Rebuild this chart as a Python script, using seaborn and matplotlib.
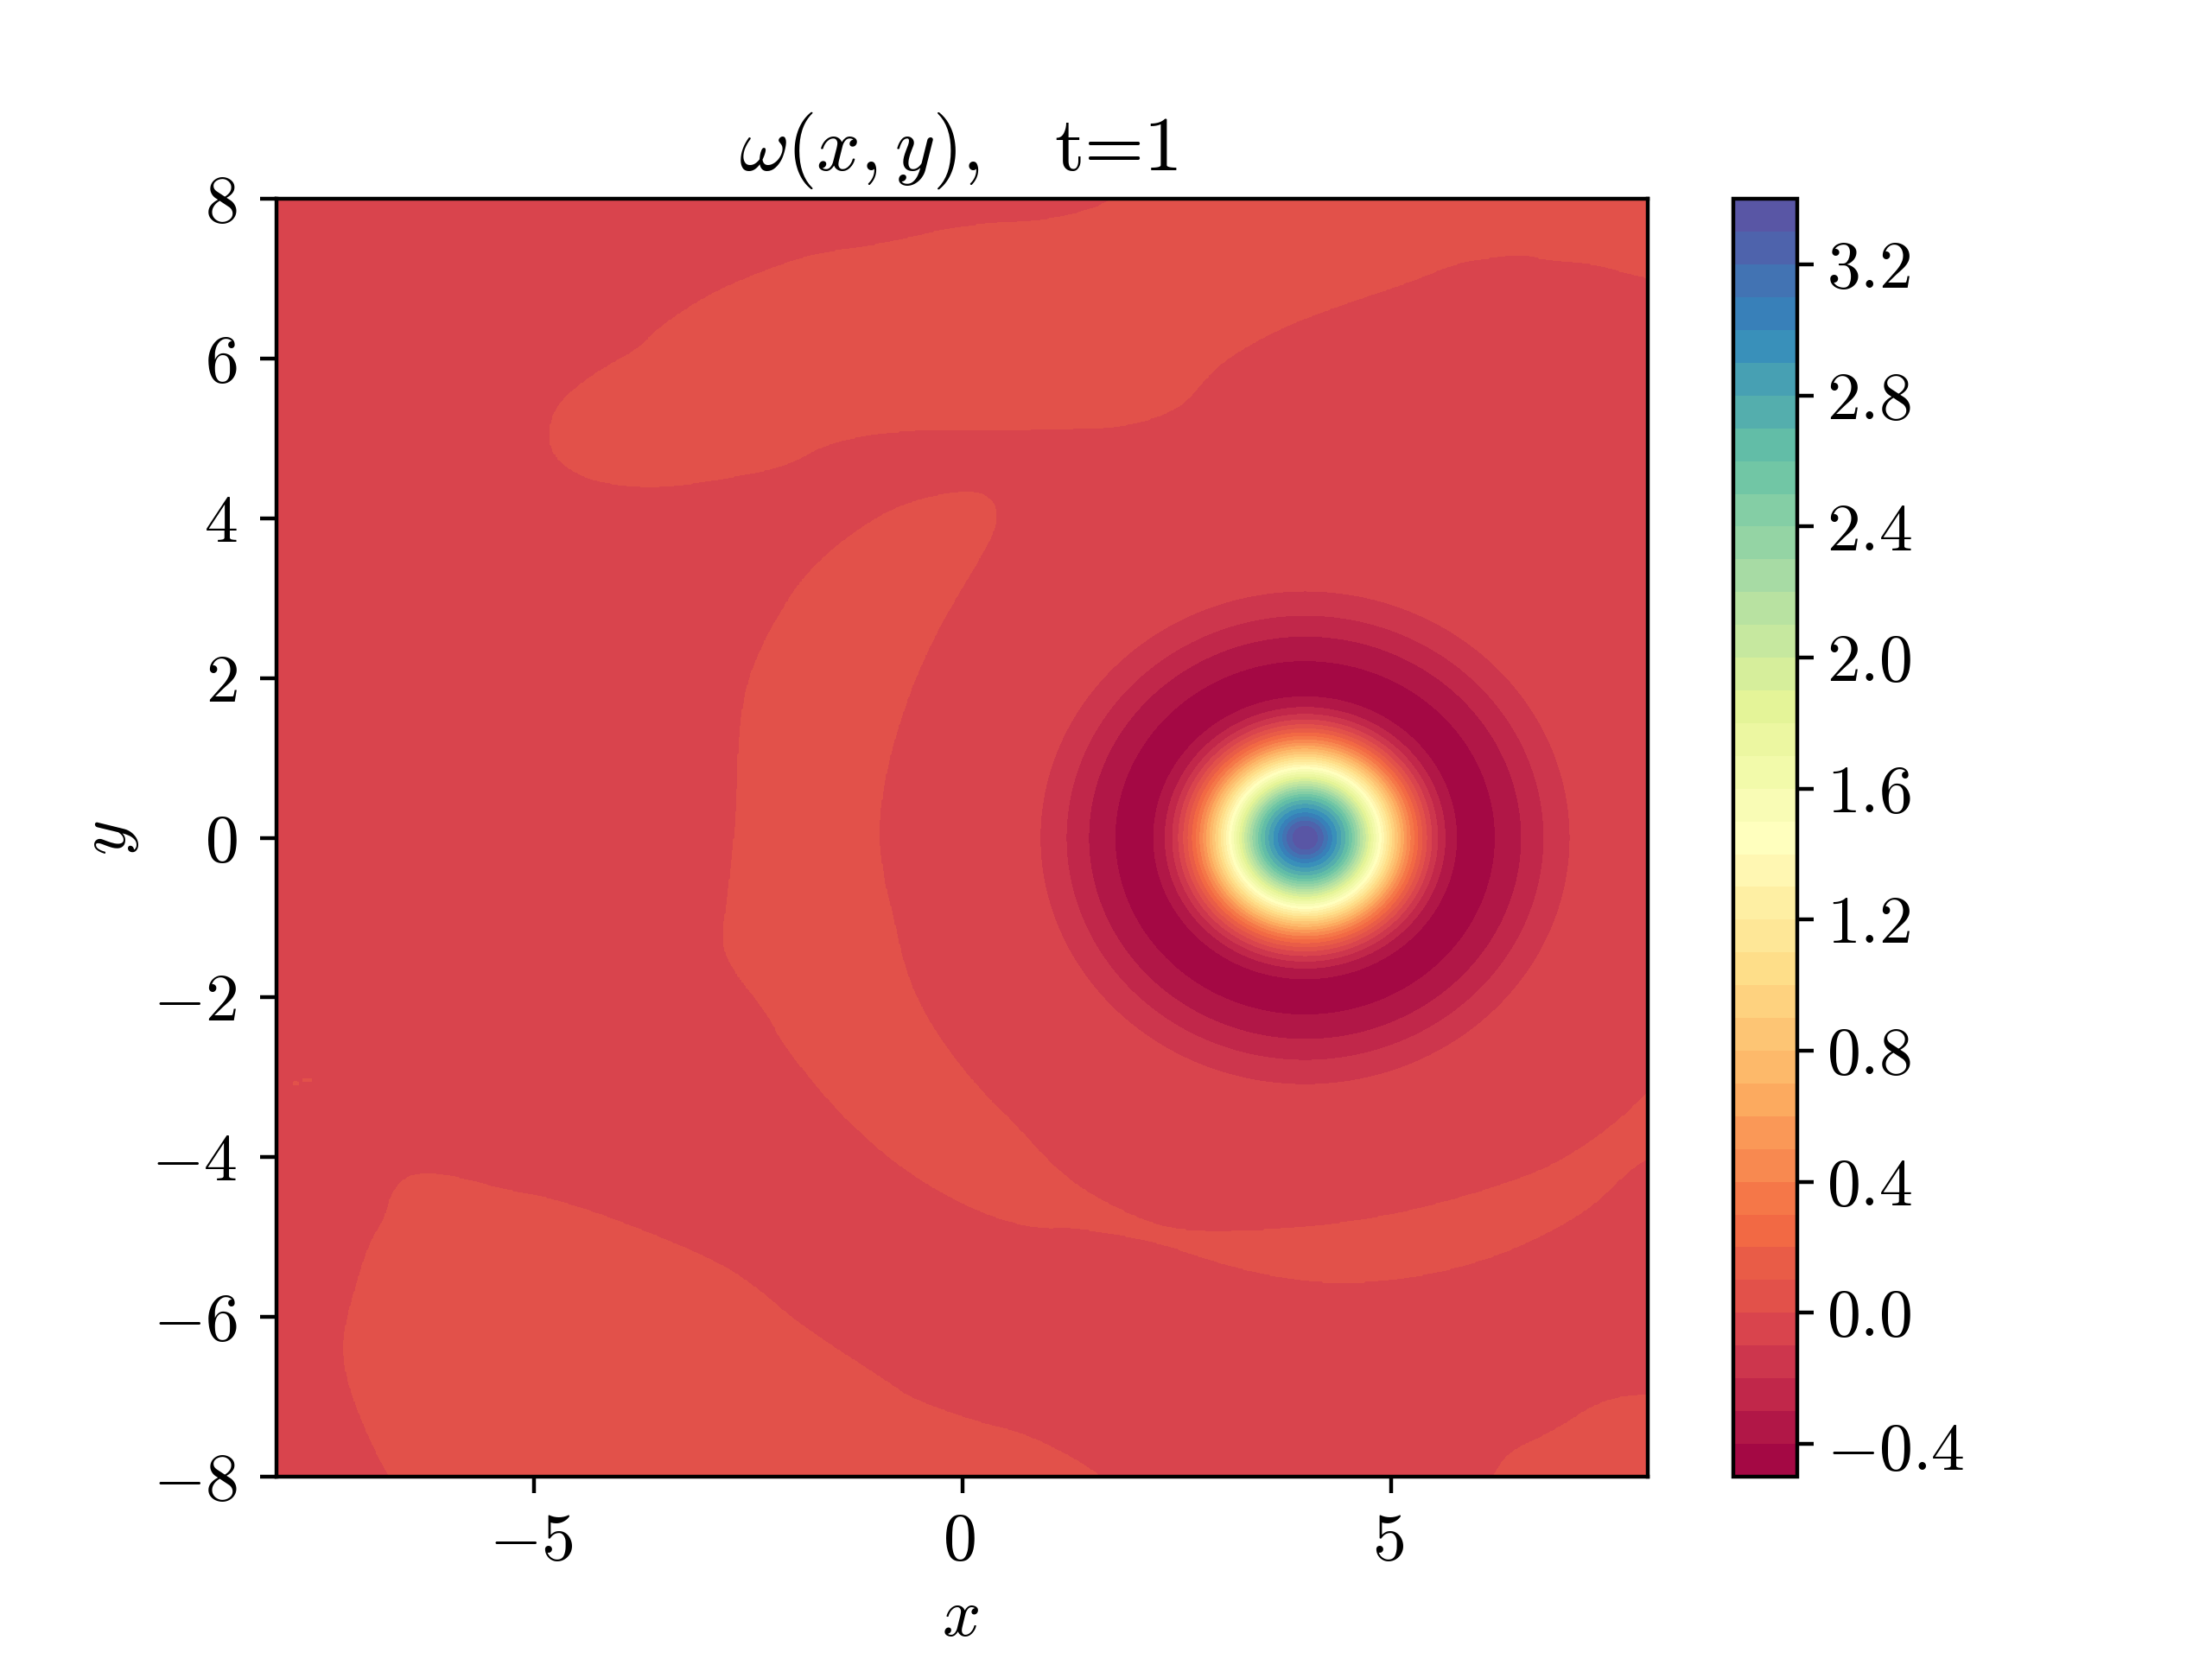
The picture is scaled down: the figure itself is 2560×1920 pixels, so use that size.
import numpy as np
import matplotlib
matplotlib.use("Agg")
import matplotlib.pyplot as plt
from matplotlib.path import Path
from matplotlib.transforms import ScaledTranslation
import seaborn as sns

# radial vorticity profile around the vortex
vortex_centre = (4.0, 0.0)
radius = [0.0, 0.1, 0.2, 0.3, 0.4, 0.5, 0.6, 0.7, 0.8, 0.9, 1.0, 1.1, 1.2, 1.3, 1.4,
          1.5, 1.6, 1.7, 1.8, 1.9, 2.0, 2.2, 2.4, 2.6, 2.8, 3.0, 3.2, 3.4]
omega = [3.39, 3.36, 3.22, 3.02, 2.84, 2.63, 2.33, 2.01, 1.68, 1.35, 1.03, 0.73, 0.46, 0.23, 0.03,
         -0.14, -0.27, -0.36, -0.42, -0.45, -0.46, -0.405, -0.35, -0.27, -0.195, -0.125, -0.07, -0.05]
background = -0.05
filament = 0.05

# outlines of the slightly positive filaments (x, y)
top_x = [-4.825, -4.775, -4.606, -4.254, -3.75, -3.565, -2.97, -2.34, -1.71, -0.99, 0.08, 1.08, 1.85, 2.3,
         8.6, 8.6, 7.98, 7.70, 7.38, 6.82, 6.54, 6.26, 5.78, 5.27, 4.35, 3.67, 3.03, 2.80, 2.52, 1.88, 1.10,
         0.27, -0.74, -1.55, -2.05, -2.62, -3.30, -3.80, -4.30, -4.606, -4.775]
top_y = [5.03, 5.32, 5.55, 5.84, 6.14, 6.37, 6.80, 7.09, 7.32, 7.42, 7.69, 7.73, 8.0, 8.6,
         8.6, 6.9, 7.015, 7.09, 7.19, 7.24, 7.31, 7.28, 7.21, 6.98, 6.65, 6.37, 5.97, 5.70, 5.36, 5.14, 5.12,
         5.10, 5.11, 4.96, 4.66, 4.53, 4.41, 4.39, 4.47, 4.63, 4.815]
crescent_x = [0.0, -0.44, -0.94, -1.58, -1.99, -2.47, -2.61, -2.63, -2.74, -2.81, -2.66, -2.29, -2.05,
              -1.35, -0.61, 0.23, 0.90, 1.27, 2.25, 2.89, 3.56, 4.33, 5.24, 6.25, 7.26, 7.74, 7.98, 8.6, 8.6,
              7.96, 7.69, 7.15, 6.58, 5.24, 4.03, 2.89, 2.28, 1.51, 1.07, 0.57, 0.23, -0.27, -0.64,
              -0.83, -0.91, -0.99, -0.88, -0.61, -0.27, 0.13, 0.38, 0.41, 0.266]
crescent_y = [4.34, 4.26, 4.06, 3.57, 3.08, 2.13, 1.35, 0.27, -0.78, -1.32, -1.68, -2.17, -2.65,
              -3.55, -4.22, -4.71, -4.90, -4.87, -5.05, -5.29, -5.48, -5.59, -5.52, -5.25, -4.71, -4.20, -4.02, -3.6, -2.65,
              -3.23, -3.52, -3.95, -4.26, -4.69, -4.89, -4.94, -4.88, -4.49, -4.13, -3.54, -3.19, -2.53, -1.79,
              -0.885, -0.56, 0.09, 0.92, 1.86, 2.65, 3.37, 3.84, 4.13, 4.31]
lower_left_x = [-6.35, -6.69, -6.93, -7.16, -7.23, -7.18, -7.09, -6.93, -6.73, -6.67, -6.52, -6.25, -5.85, -5.38,
                -4.74, -3.90, -2.83, -2.36, -1.90, -0.84, -0.59, 0.17, 0.79, 1.67, 2.2]
lower_left_y = [-8.6, -8.0, -7.49, -6.87, -6.40, -6.04, -5.68, -5.11, -4.76, -4.49, -4.26, -4.19, -4.26, -4.40,
                -4.53, -4.84, -5.32, -5.67, -6.10, -6.84, -7.03, -7.32, -7.48, -8.0, -8.6]
lower_right_x = [5.9, 6.19, 6.39, 6.88, 7.46, 8.0, 8.6, 8.6]
lower_right_y = [-8.6, -8.0, -7.68, -7.45, -7.04, -6.97, -6.93, -8.6]
speck_one_x = [-7.81, -7.74, -7.74, -7.81]
speck_one_y = [-3.09, -3.09, -3.06, -3.06]
speck_two_x = [-7.69, -7.60, -7.60, -7.69]
speck_two_y = [-3.055, -3.055, -3.02, -3.02]
filaments = [(top_x, top_y), (crescent_x, crescent_y),
             (lower_left_x, lower_left_y), (lower_right_x, lower_right_y)]
specks = [(speck_one_x, speck_one_y), (speck_two_x, speck_two_y)]

levels = np.arange(-0.5, 3.45, 0.1)
x_ticks = [-5, 0, 5]
x_tick_labels = ["$-5$", "$0$", "$5$"]
y_ticks = [-8, -6, -4, -2, 0, 2, 4, 6, 8]
y_tick_labels = ["$-8$", "$-6$", "$-4$", "$-2$", "$0$", "$2$", "$4$", "$6$", "$8$"]
cbar_ticks = [-0.4, 0.0, 0.4, 0.8, 1.2, 1.6, 2.0, 2.4, 2.8, 3.2]
cbar_tick_labels = ["$-0.4$", "$0.0$", "$0.4$", "$0.8$", "$1.2$", "$1.6$", "$2.0$", "$2.4$", "$2.8$", "$3.2$"]

sns.set_theme(style="ticks", rc={"axes.linewidth": 0.8, "xtick.major.width": 0.8,
                                 "ytick.major.width": 0.8, "xtick.major.size": 3.5,
                                 "ytick.major.size": 3.5, "text.color": "black",
                                 "axes.labelcolor": "black", "axes.edgecolor": "black",
                                 "xtick.color": "black", "ytick.color": "black"})
plt.rcParams["font.family"] = ["cmr10", "DejaVu Sans"]
plt.rcParams["mathtext.fontset"] = "cm"
plt.rcParams["axes.unicode_minus"] = False
plt.rcParams["axes.formatter.use_mathtext"] = True


def rounded(xs, ys, passes=2):
    """Corner-cut a traced outline, so that it is as rounded as the contour in the picture."""
    p = np.column_stack([xs, ys])
    for _ in range(passes):
        q = np.roll(p, -1, axis=0)
        out = np.empty((2 * len(p), 2))
        out[0::2] = 0.75 * p + 0.25 * q
        out[1::2] = 0.25 * p + 0.75 * q
        p = out
    return p


# assemble the field on a fine grid from the tables above
gx = np.linspace(-8, 8, 1281)
gy = np.linspace(-8, 8, 1281)
X, Y = np.meshgrid(gx, gy)
pts = np.column_stack([X.ravel(), Y.ravel()])
Z = np.full(X.shape, background, dtype=float)
for fx, fy in filaments:
    inside = Path(rounded(fx, fy)).contains_points(pts).reshape(X.shape)
    Z[inside] = filament
for fx, fy in specks:
    inside = Path(np.column_stack([fx, fy])).contains_points(pts).reshape(X.shape)
    Z[inside] = filament
R = np.hypot(X - vortex_centre[0], Y - vortex_centre[1])
Z = np.where(R < radius[-1], np.interp(R, radius, omega), Z)

fig, ax = plt.subplots(figsize=(6.4, 4.8), dpi=400)
cf = ax.contourf(X, Y, Z, levels=levels, cmap=sns.color_palette("Spectral", as_cmap=True))
ax.set_xlim(-8, 8)
ax.set_ylim(-8, 8)
ax.set_xticks(x_ticks, x_tick_labels, fontsize=14)
ax.set_yticks(y_ticks, y_tick_labels, fontsize=14)
ax.tick_params(axis="x", pad=4.1)
ax.tick_params(axis="y", pad=4.7)
nudge = ScaledTranslation(-0.6 / 72, 0, fig.dpi_scale_trans)
for lab in ax.get_xticklabels():
    lab.set_transform(lab.get_transform() + nudge)
ax.set_xlabel("$x$", fontsize=14, labelpad=3.4, x=0.4985)
ax.set_ylabel("$y$", fontsize=14, labelpad=2.2)
ax.set_title(r"$\omega(x,y),\hspace{0.85}$t=1", fontsize=16, x=0.4975)
cbar = fig.colorbar(cf, ax=ax)
cbar.set_ticks(cbar_ticks, labels=cbar_tick_labels, fontsize=14)
cbar.ax.tick_params(pad=2.6)
low = cbar.ax.get_yticklabels()[0]
low.set_transform(low.get_transform() + ScaledTranslation(0, -0.6 / 72, fig.dpi_scale_trans))
fig.savefig("out.png", dpi=400)
